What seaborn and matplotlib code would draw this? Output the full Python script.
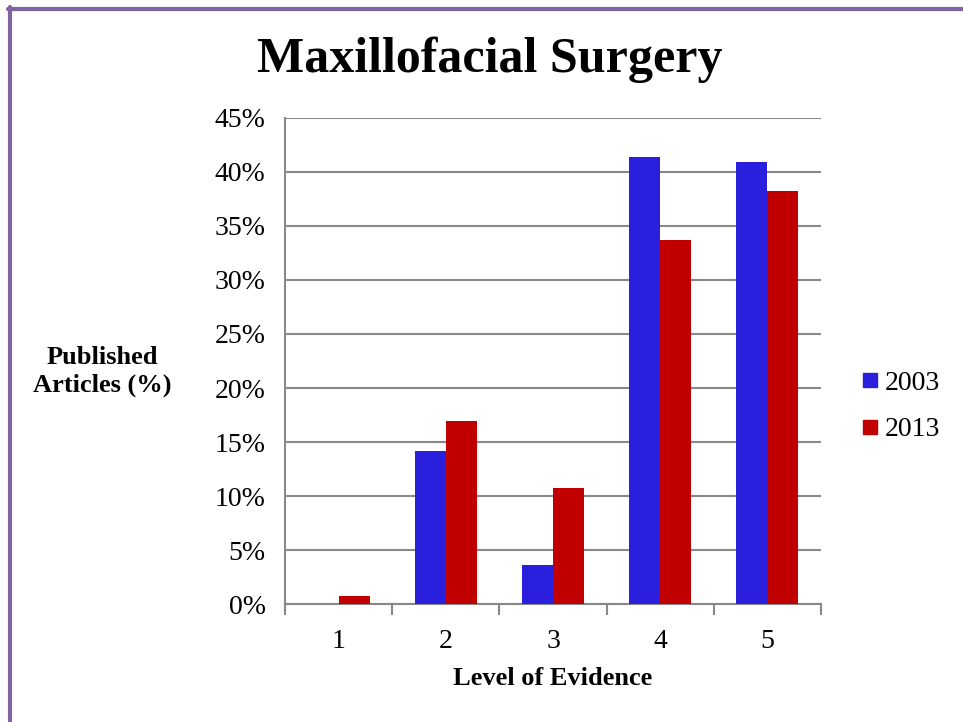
import pandas as pd
import matplotlib.pyplot as plt
import seaborn as sns
from matplotlib.lines import Line2D
from matplotlib.ticker import FixedLocator

# Data
levels = ['1', '2', '3', '4', '5']
pct_2003 = [0.0, 14.2, 3.6, 41.4, 40.9]
pct_2013 = [0.7, 16.9, 10.7, 33.7, 38.2]
years = ['2003', '2013']
colors = ['#2A1FDC', '#C00000']

df = pd.DataFrame({
    'Level': levels * 2,
    'Pct': pct_2003 + pct_2013,
    'Year': [years[0]] * len(levels) + [years[1]] * len(levels),
})

sns.set_style('white')
plt.rcParams['font.family'] = ['Liberation Serif', 'DejaVu Serif']
plt.rcParams['text.color'] = 'black'
plt.rcParams['xtick.color'] = 'black'
plt.rcParams['ytick.color'] = 'black'

fig = plt.figure(figsize=(9.63, 7.22), dpi=100)
ax = fig.add_axes([0.296, 0.1634, 0.5565, 0.6732])

sns.barplot(data=df, x='Level', y='Pct', hue='Year', palette=colors,
            width=0.58, saturation=1, ax=ax, legend=False, zorder=3, linewidth=0)

ax.set_ylim(0, 45)
ax.set_xlim(-0.5, 4.5)
ax.set_yticks(range(0, 50, 5))
ax.set_yticklabels([f'{v}%' for v in range(0, 50, 5)], fontsize=20)
ax.set_xticklabels(levels, fontsize=20)
ax.tick_params(axis='x', length=0, pad=18)
ax.tick_params(axis='y', length=6, width=1.5, color='#888888', pad=8)
ax.xaxis.set_minor_locator(FixedLocator([-0.5, 0.5, 1.5, 2.5, 3.5, 4.5]))
ax.tick_params(axis='x', which='minor', length=8, width=1.5, color='#888888', bottom=True)
ax.yaxis.grid(True, color='#888888', linewidth=1.5, zorder=0)
ax.set_axisbelow(True)
for side in ['top', 'right']:
    ax.spines[side].set_visible(False)
for side in ['left', 'bottom']:
    ax.spines[side].set_color('#888888')
    ax.spines[side].set_linewidth(1.5)
ax.set_xlabel('')
ax.set_ylabel('')

fig.text(0.509, 0.917, 'Maxillofacial Surgery', ha='center', va='center', fontsize=36, fontweight='bold')
fig.text(0.574, 0.060, 'Level of Evidence', ha='center', va='center', fontsize=19, fontweight='bold')
fig.text(0.106, 0.485, 'Published\nArticles (%)', ha='center', va='center', fontsize=19,
         fontweight='bold', linespacing=1.25)

handles = [Line2D([], [], marker='s', linestyle='', markersize=10, color=c) for c in colors]
fig.legend(handles, years, loc='center left', bbox_to_anchor=(0.864, 0.437), frameon=False,
           fontsize=20, handletextpad=0.1, labelspacing=0.75, handlelength=0.9)

# purple frame on the left and top edge
fig.add_artist(Line2D([0.01, 0.01], [0, 0.99], transform=fig.transFigure, color='#8064A2', linewidth=3))
fig.add_artist(Line2D([0.0085, 1], [0.988, 0.988], transform=fig.transFigure, color='#8064A2', linewidth=3))

fig.savefig('out.png', dpi=100)
